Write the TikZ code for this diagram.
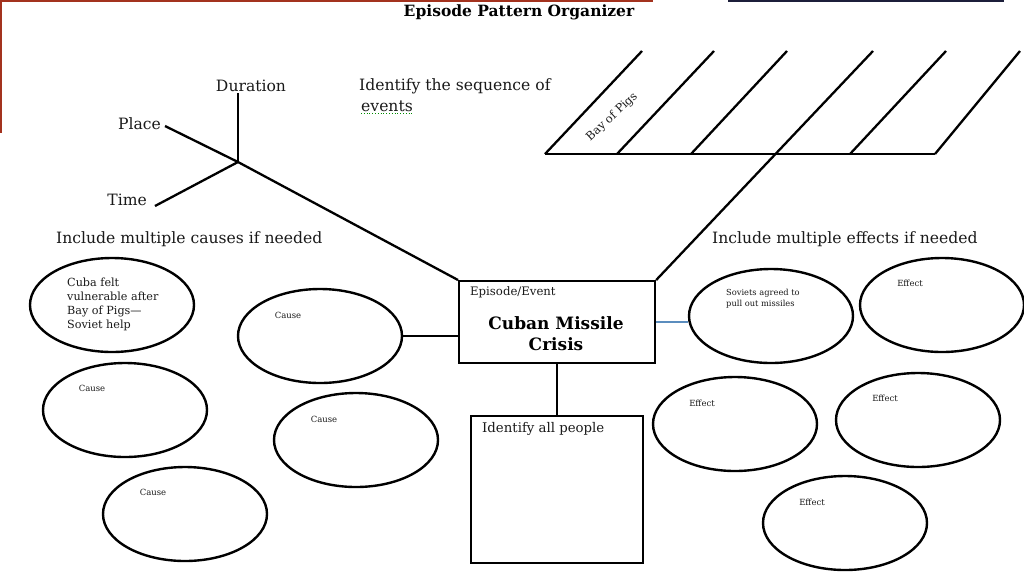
\documentclass[tikz,border=0pt]{standalone}
\usepackage{fontspec}
\setmainfont{DejaVu Serif}
\usetikzlibrary{shapes.geometric}
\definecolor{framered}{HTML}{A3321E}
\definecolor{framenavy}{HTML}{1C1E3A}
\definecolor{linkblue}{HTML}{5B8DBE}
\definecolor{txt}{HTML}{1A1A1A}
\tikzset{
  bubble/.style={ellipse, draw, line width=2.4pt, minimum width=164, minimum height=94, inner sep=0pt},
  framebox/.style={draw, line width=2.2pt, inner sep=0pt},
  wire/.style={line width=2.3pt},
  lbl/.style={inner sep=0pt, text=txt, font=\fontsize{15.6}{17}\selectfont},
  tiny/.style={inner sep=0pt, text=txt, font=\fontsize{8.5}{10}\selectfont},
}
\begin{document}
\begin{tikzpicture}[x=1pt,y=-1pt]
\useasboundingbox (0,0) rectangle (1024,576);
\fill[white] (0,0) rectangle (1024,576);
% slide frame artefacts
\draw[framered, line width=2pt] (0,1) -- (653,1);
\draw[framered, line width=2pt] (1,0) -- (1,133);
\draw[framenavy, line width=2pt] (728,1) -- (1004,1);

% title
\node[inner sep=0pt, font=\bfseries\fontsize{15.5}{17}\selectfont] (title) at (519,12) {Episode Pattern Organizer};

% fishbone upper left
\coordinate (hub) at (238,162);
\node[lbl, anchor=center] (dur) at (251,86) {Duration};
\node[lbl, anchor=east] (place) at (161,124) {Place};
\node[lbl, anchor=east] (time) at (147,200) {Time};
\coordinate (durend) at (238,93);
\coordinate (placeend) at (165,126);
\coordinate (timeend) at (155,206);
\draw[wire] (durend) -- (hub);
\draw[wire] (placeend) -- (hub);
\draw[wire] (timeend) -- (hub);

\node[lbl, anchor=west] (seq1) at (359,86) {Identify the sequence of};
\node[lbl, anchor=west] (seq2) at (361,106) {events};
\draw[green!55!black, line width=0.8pt, dotted] (seq2.south west) ++(0,2) -- ++(53,0);

% central box
\node[framebox, minimum width=196, minimum height=82, anchor=north west] (event) at (458,280) {};
\node[inner sep=0pt, anchor=west, text=txt, font=\fontsize{11.7}{13}\selectfont] (evlbl) at (470,292) {Episode/Event};
\node[inner sep=0pt, align=center, font=\bfseries\fontsize{17}{21}\selectfont] (evname) at (556,334) {Cuban Missile\\Crisis};

\draw[wire] (hub) -- (event.north west);

% sequence comb
\coordinate (h0) at (545,154);
\coordinate (h5) at (935,154);
\draw[wire] (h0) -- (h5);
\coordinate (t1) at (642,51);
\coordinate (b2) at (617,154);  \coordinate (t2) at (714,51);
\coordinate (b3) at (691,154);  \coordinate (t3) at (787,51);
\coordinate (t4) at (873,51);
\coordinate (b5) at (850,154);  \coordinate (t5) at (946,51);
\coordinate (t6) at (1020,51);
\draw[wire] (h0) -- (t1);
\draw[wire] (b2) -- (t2);
\draw[wire] (b3) -- (t3);
\draw[wire] (t4) -- (event.north east);
\draw[wire] (b5) -- (t5);
\draw[wire] (h5) -- (t6);
\node[inner sep=0pt, rotate=43, text=txt, font=\fontsize{11.5}{13}\selectfont] (bay) at (612,117) {Bay of Pigs};

% headings
\node[lbl, anchor=west] (causes) at (56,239) {Include multiple causes if needed};
\node[lbl, anchor=west] (effects) at (712,239) {Include multiple effects if needed};

% causes
\node[bubble] (c1) at (112,305) {};
\node[inner sep=0pt, anchor=north west, align=left, text=txt, font=\fontsize{11.2}{14}\selectfont] (c1t) at (67,278) {Cuba felt\\vulnerable after\\Bay of Pigs—\\Soviet help};
\node[bubble] (c2) at (320,336) {};
\node[tiny] (c2t) at (288,315) {Cause};
\node[bubble] (c3) at (356,440) {};
\node[tiny] (c3t) at (324,419) {Cause};
\node[bubble] (c4) at (125,410) {};
\node[tiny] (c4t) at (92,388) {Cause};
\node[bubble] (c5) at (185,514) {};
\node[tiny] (c5t) at (153,492) {Cause};
\draw[wire] (c2.east) -- (event.west |- c2.east);

% effects
\node[bubble] (e1) at (771,316) {};
\node[inner sep=0pt, anchor=north west, align=left, text=txt, font=\fontsize{8.3}{11}\selectfont] (e1t) at (726,289) {Soviets agreed to\\pull out missiles};
\draw[linkblue, line width=1.4pt] (event.east |- 0,322) coordinate (ebr) -- (e1.west |- 0,322) coordinate (e1l);
\node[bubble] (e2) at (942,305) {};
\node[tiny] (e2t) at (910,283) {Effect};
\node[bubble] (e3) at (735,424) {};
\node[tiny] (e3t) at (702,403) {Effect};
\node[bubble] (e4) at (918,420) {};
\node[tiny] (e4t) at (885,398) {Effect};
\node[bubble] (e5) at (845,523) {};
\node[tiny] (e5t) at (812,502) {Effect};

% people box
\node[framebox, minimum width=172, minimum height=147, anchor=north west] (people) at (470,415) {};
\node[inner sep=0pt, anchor=west, text=txt, font=\fontsize{13.3}{15}\selectfont] (pplt) at (482,429) {Identify all people};
\draw[wire] (event.south) -- (people.north -| event.south);
\end{tikzpicture}
\end{document}
